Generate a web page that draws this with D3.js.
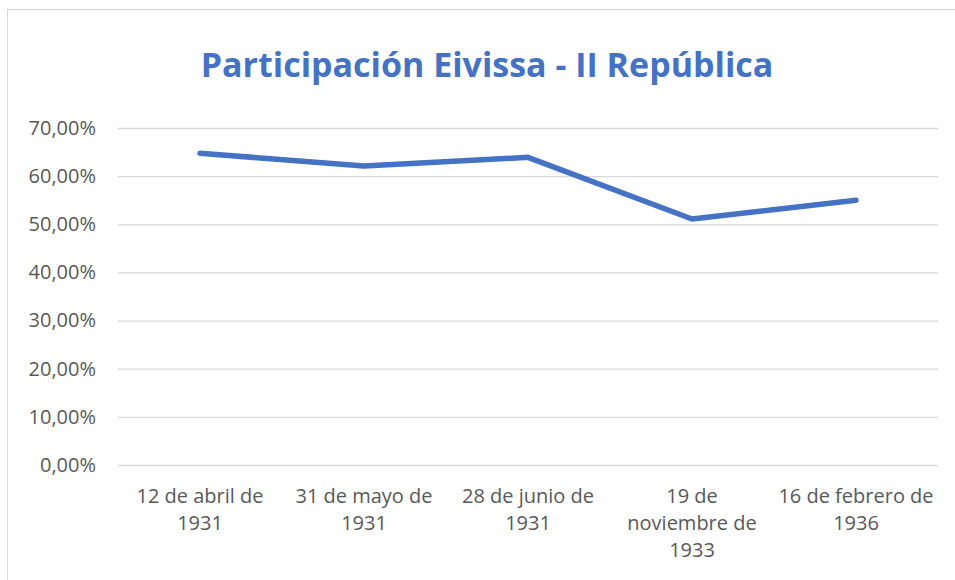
<!DOCTYPE html>
<html>
<head>
<meta charset="utf-8">
<script src="https://cdn.jsdelivr.net/npm/d3@7"></script>
<style>
  body { margin: 0; background: #fff; }
  svg { display: block; font-family: "Open Sans", "Noto Sans", sans-serif; }
</style>
</head>
<body>
<div id="chart"></div>
<script>
// election dates (label lines) and turnout
const categories = [
  ["12 de abril de", "1931"],
  ["31 de mayo de", "1931"],
  ["28 de junio de", "1931"],
  ["19 de", "noviembre de", "1933"],
  ["16 de febrero de", "1936"]
];
const turnout = [0.6475, 0.621, 0.639, 0.511, 0.550];
const yTicks = [0, 0.1, 0.2, 0.3, 0.4, 0.5, 0.6, 0.7];
const title = "Participación Eivissa - II República";

const width = 955, height = 580;
const margin = { top: 128, right: 17, bottom: 115, left: 118 };

const svg = d3.select('#chart')
  .append('svg')
  .attr('width', width)
  .attr('height', height);

// chart frame
svg.append('rect')
  .attr('x', 7.5).attr('y', 9.5)
  .attr('width', 960).attr('height', 600)
  .attr('fill', 'none')
  .attr('stroke', '#d9d9d9');

const x = d3.scaleBand()
  .domain(d3.range(categories.length))
  .range([margin.left, width - margin.right]);

const y = d3.scaleLinear()
  .domain([0, 0.7])
  .range([height - margin.bottom, margin.top]);

const fmt = v => (v * 100).toFixed(2).replace('.', ',') + '%';

// gridlines + y labels
const yAxis = svg.append('g')
  .attr('transform', `translate(${margin.left},0)`)
  .call(d3.axisLeft(y).tickValues(yTicks).tickFormat(fmt)
    .tickSize(-(width - margin.left - margin.right)).tickPadding(22));
yAxis.select('.domain').remove();
yAxis.selectAll('line').attr('stroke', '#d9d9d9').attr('stroke-width', 1.3);
yAxis.selectAll('text')
  .attr('fill', '#595959')
  .style('font-size', '20px')
  .style('font-family', '"Open Sans", sans-serif');

// category labels
const xLabels = svg.append('g');
categories.forEach((lines, i) => {
  const t = xLabels.append('text')
    .attr('x', x(i) + x.bandwidth() / 2)
    .attr('y', 503)
    .attr('text-anchor', 'middle')
    .attr('fill', '#595959')
    .style('font-size', '20px');
  lines.forEach((l, j) => {
    t.append('tspan')
      .attr('x', x(i) + x.bandwidth() / 2)
      .attr('dy', j === 0 ? 0 : 27)
      .text(l);
  });
});

// line
const line = d3.line()
  .x((d, i) => x(i) + x.bandwidth() / 2)
  .y(d => y(d));

svg.append('path')
  .datum(turnout)
  .attr('d', line)
  .attr('fill', 'none')
  .attr('stroke', '#4472c4')
  .attr('stroke-width', 5.5)
  .attr('stroke-linecap', 'round')
  .attr('stroke-linejoin', 'round');

// title
svg.append('text')
  .attr('x', 487)
  .attr('y', 77)
  .attr('text-anchor', 'middle')
  .attr('fill', '#4472c4')
  .style('font-size', '34px')
  .style('font-weight', 'bold')
  .text(title);
</script>
</body>
</html>
